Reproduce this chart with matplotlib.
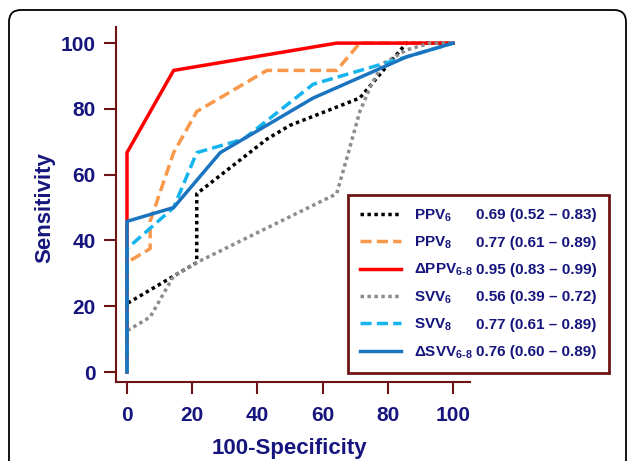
import matplotlib
matplotlib.use('Agg')
import matplotlib.pyplot as plt
from matplotlib.lines import Line2D
from matplotlib.patches import FancyBboxPatch
from matplotlib.transforms import IdentityTransform

plt.rcParams['font.family'] = ['Liberation Sans', 'DejaVu Sans']
plt.rcParams['font.weight'] = 'bold'
plt.rcParams['mathtext.fontset'] = 'custom'
plt.rcParams['mathtext.rm'] = 'Liberation Sans:bold'
plt.rcParams['mathtext.it'] = 'Liberation Sans:bold'
plt.rcParams['mathtext.bf'] = 'Liberation Sans:bold'
plt.rcParams['mathtext.default'] = 'rm'

# ROC curves (100-specificity, sensitivity in %)
ppv6_x = [0, 0, 21.4, 21.4, 42.9, 50, 71.4, 85.7, 100]
ppv6_y = [0, 20.8, 33.3, 54.2, 70.8, 75, 83.3, 100, 100]
ppv8_x = [0, 0, 7.1, 7.1, 14.3, 21.4, 42.9, 64.3, 71.4, 100]
ppv8_y = [0, 33.3, 37.5, 45.8, 66.7, 79.2, 91.7, 91.7, 100, 100]
dppv_x = [0, 0, 14.3, 64.3, 100]
dppv_y = [0, 66.7, 91.7, 100, 100]
svv6_x = [0, 0, 7.1, 14.3, 21.4, 64.3, 67.9, 71.4, 75, 78.6, 85.7, 92.9, 100]
svv6_y = [0, 12.5, 16.7, 29.2, 33.3, 54.2, 66.7, 79.2, 87.5, 93.8, 97.9, 100, 100]
svv8_x = [0, 0, 14.3, 21.4, 35.7, 57.1, 85.7, 100]
svv8_y = [0, 37.5, 50, 66.7, 70.8, 87.5, 95.8, 100]
dsvv_x = [0, 0, 14.3, 28.6, 57.1, 85.7, 100]
dsvv_y = [0, 45.8, 50, 66.7, 83.3, 95.8, 100]

names = ['PPV$_6$', 'PPV$_8$', r'ΔPPV$_{\text{6-8}}$',
         'SVV$_6$', 'SVV$_8$', r'ΔSVV$_{\text{6-8}}$']
aucs = ['0.69 (0.52 – 0.83)', '0.77 (0.61 – 0.89)', '0.95 (0.83 – 0.99)',
        '0.56 (0.39 – 0.72)', '0.77 (0.61 – 0.89)', '0.76 (0.60 – 0.89)']
xticks = [0, 20, 40, 60, 80, 100]
yticks = [0, 20, 40, 60, 80, 100]

navy = '#15157D'
maroon = '#6E1414'

fig = plt.figure(figsize=(6.27, 4.61), dpi=100)

# rounded outer frame (runs off the bottom of the picture)
frame = FancyBboxPatch((9, -40), 617, 491, boxstyle='round,pad=0,rounding_size=12',
                       transform=IdentityTransform(), facecolor='none',
                       edgecolor='black', linewidth=1.3)
fig.patches.append(frame)

ax = fig.add_axes([116 / 627, 1 - 382 / 461, (470 - 116) / 627, (382 - 27) / 461])

series = [
    (ppv6_x, ppv6_y, dict(color='black', dashes=(1, 1))),
    (ppv8_x, ppv8_y, dict(color='#F7984A', dashes=(3.2, 1.5))),
    (dppv_x, dppv_y, dict(color='#FF0000')),
    (svv6_x, svv6_y, dict(color='#8C8C8C', dashes=(1, 1))),
    (svv8_x, svv8_y, dict(color='#14B4EE', dashes=(3.2, 1.5))),
    (dsvv_x, dsvv_y, dict(color='#1A74BF')),
]
lines = []
for x, y, st in series:
    ln, = ax.plot(x, y, linewidth=2.5, **st)
    lines.append(ln)

ax.set_xlim(-3.37, 105.2)
ax.set_ylim(-3.04, 104.9)
ax.set_xticks(xticks)
ax.set_yticks(yticks)
for s in ['top', 'right']:
    ax.spines[s].set_visible(False)
for s in ['left', 'bottom']:
    ax.spines[s].set_color(maroon)
    ax.spines[s].set_linewidth(1.5)
ax.tick_params(direction='out', length=8.5, width=1.5, color=maroon,
               labelsize=15, labelcolor=navy)
ax.tick_params(axis='x', pad=9)
ax.tick_params(axis='y', pad=6)

ax.set_xlabel('100-Specificity', fontsize=16, color=navy, fontweight='bold')
ax.set_ylabel('Sensitivity', fontsize=16, color=navy, fontweight='bold')
ax.xaxis.set_label_coords(0.489, -0.157)
ax.yaxis.set_label_coords(-0.17, 0.49)

blank = [Line2D([], [], color='none') for _ in aucs]
leg = ax.legend(lines + blank, names + aucs, ncol=2, loc='upper left',
                bbox_to_anchor=(348 / 627, 1 - 195 / 461), bbox_transform=fig.transFigure,
                borderaxespad=0, fontsize=11, handlelength=2.7, handletextpad=0.85,
                columnspacing=-3.35, labelspacing=0.72, borderpad=0.8,
                fancybox=False, edgecolor=maroon, framealpha=1)
leg.get_frame().set_linewidth(2)
for t in leg.get_texts():
    t.set_color(navy)

# put the values on the same baselines as the names
fig.canvas.draw()
texts = leg.get_texts()
inv = fig.transFigure.inverted()
for name_t, val_t in zip(texts[:6], texts[6:]):
    _, yb = name_t.get_transform().transform(name_t.get_position())
    xb, _ = val_t.get_transform().transform(val_t.get_position())
    val_t.set_visible(False)
    fx, fy = inv.transform((xb, yb))
    fig.text(fx, fy, val_t.get_text(), fontsize=11, color=navy, fontweight='bold',
             ha='left', va='baseline', zorder=10)

fig.savefig('out.png', dpi=100)
